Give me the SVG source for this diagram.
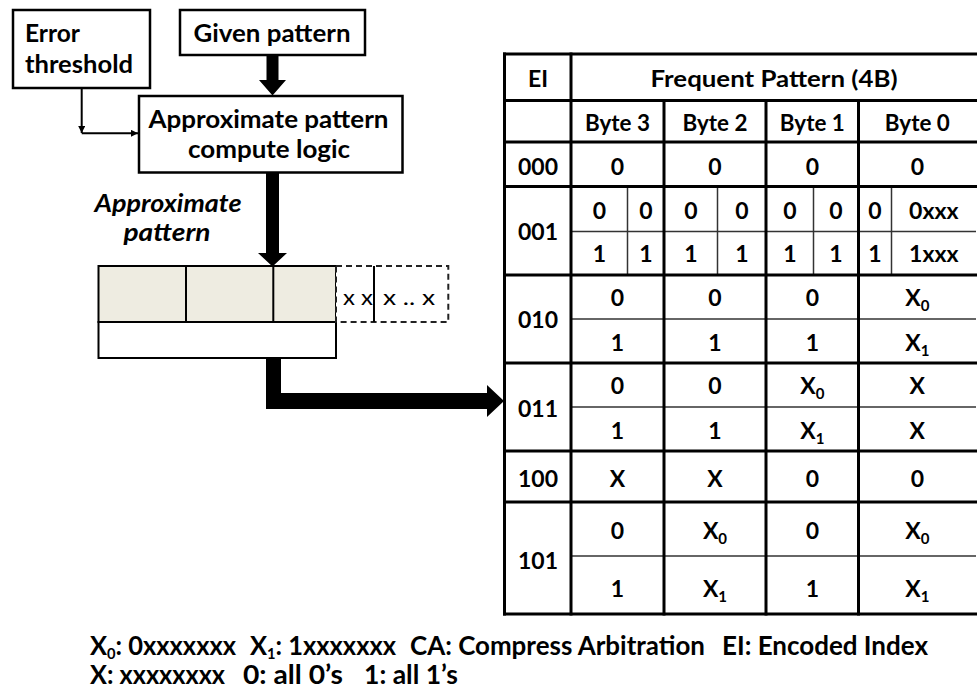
<svg xmlns="http://www.w3.org/2000/svg" width="977" height="691" viewBox="0 0 977 691">
  <style>
    text { font-family: Lato, "Liberation Sans", sans-serif; font-weight: bold; fill: #000; }
    .box { fill: #fff; stroke: #000; stroke-width: 2.5; }
    .c { text-anchor: middle; font-size: 23px; }
    .t { font-size: 24px; }
    .thick { stroke: #000; stroke-width: 3; fill: none; }
    .thin { stroke: #333; stroke-width: 1.5; fill: none; }
    .reg { stroke: #000; stroke-width: 2; }
    .dash { fill: #fff; stroke: #222; stroke-width: 2; stroke-dasharray: 6 4; }
    .xs { font-weight: normal; font-size: 21px; text-anchor: middle; }
    .leg { font-size: 26px; }
    .sub { font-size: 15px; }
  </style>
  <defs>
    <marker id="tip" viewBox="0 0 10 10" refX="10" refY="5" markerWidth="7" markerHeight="7" markerUnits="userSpaceOnUse" orient="auto">
      <path d="M0,0 L10,5 L0,10 z" fill="#000"/>
    </marker>
  </defs>

  <!-- input boxes -->
  <g id="error-threshold">
    <rect class="box" x="13" y="10" width="137" height="78"/>
    <text class="t" x="25" y="41.5" textLength="55" lengthAdjust="spacingAndGlyphs">Error</text>
    <text class="t" x="25" y="73" textLength="108" lengthAdjust="spacingAndGlyphs">threshold</text>
  </g>
  <g id="given-pattern">
    <rect class="box" x="180" y="10" width="185" height="45"/>
    <text class="t" x="272" y="41.5" text-anchor="middle" textLength="157" lengthAdjust="spacingAndGlyphs">Given pattern</text>
  </g>
  <g id="compute-logic">
    <rect class="box" x="139" y="96" width="263.5" height="76.5"/>
    <text class="t" x="268.5" y="128" text-anchor="middle" textLength="240" lengthAdjust="spacingAndGlyphs">Approximate pattern</text>
    <text class="t" x="269" y="158" text-anchor="middle" textLength="162" lengthAdjust="spacingAndGlyphs">compute logic</text>
  </g>
  <g id="approx-label">
    <text class="t" x="168" y="212" text-anchor="middle" font-style="italic" textLength="147" lengthAdjust="spacingAndGlyphs">Approximate</text>
    <text class="t" x="167" y="241" text-anchor="middle" font-style="italic" textLength="87" lengthAdjust="spacingAndGlyphs">pattern</text>
  </g>

  <!-- approximate pattern register -->
  <g id="register">
    <rect x="98.5" y="266" width="237.5" height="56" fill="#EEECE1" class="reg"/>
    <line class="reg" x1="186" y1="266" x2="186" y2="322"/>
    <line class="reg" x1="273.3" y1="266" x2="273.3" y2="322"/>
    <rect x="98.5" y="322" width="237.5" height="36" fill="#fff" class="reg"/>
    <rect class="dash" x="336" y="266" width="112.3" height="56"/>
    <line class="reg" x1="374" y1="266" x2="374" y2="322"/>
    <text class="xs" x="358" y="305" textLength="30" lengthAdjust="spacingAndGlyphs">x x</text>
    <text class="xs" x="409" y="305" textLength="52" lengthAdjust="spacingAndGlyphs">x .. x</text>
  </g>

  <!-- connectors -->
  <g id="connectors">
    <path d="M81.7,88 V133" stroke="#000" stroke-width="2" fill="none" marker-end="url(#tip)"/>
    <path d="M81.7,133.3 H138" stroke="#000" stroke-width="2" fill="none" marker-end="url(#tip)"/>
    <polygon points="266.5,55 278.5,55 278.5,80 286,80 272.5,95.5 259,80 266.5,80" fill="#000"/>
    <polygon points="266,172.5 279,172.5 279,253 287,253 272.5,266.5 258,253 266,253" fill="#000"/>
    <polygon points="266,358 281,358 281,393 487,393 487,385 504,401 487,417 487,409 266,409" fill="#000"/>
  </g>

  <!-- frequent pattern table -->
  <g id="pattern-table">
    <!-- thin sub-row and sub-column rules -->
    <g class="thin">
      <line x1="571" y1="231.5" x2="976" y2="231.5"/>
      <line x1="571" y1="319" x2="976" y2="319"/>
      <line x1="571" y1="407" x2="976" y2="407"/>
      <line x1="571" y1="556" x2="976" y2="556"/>
      <line x1="627.5" y1="186.5" x2="627.5" y2="275"/>
      <line x1="717.5" y1="186.5" x2="717.5" y2="275"/>
      <line x1="813.5" y1="186.5" x2="813.5" y2="275"/>
      <line x1="891.5" y1="186.5" x2="891.5" y2="275"/>
    </g>
    <!-- heavy grid -->
    <g class="thick">
      <line x1="503" y1="54" x2="977" y2="54"/>
      <line x1="503" y1="100.5" x2="977" y2="100.5"/>
      <line x1="503" y1="142" x2="977" y2="142"/>
      <line x1="503" y1="186.5" x2="977" y2="186.5"/>
      <line x1="503" y1="275" x2="977" y2="275"/>
      <line x1="503" y1="363" x2="977" y2="363"/>
      <line x1="503" y1="451" x2="977" y2="451"/>
      <line x1="503" y1="502" x2="977" y2="502"/>
      <line x1="503" y1="614" x2="977" y2="614"/>
      <line x1="504.5" y1="52.5" x2="504.5" y2="615.5"/>
      <line x1="571" y1="52.5" x2="571" y2="615.5"/>
      <line x1="664" y1="100.5" x2="664" y2="615.5"/>
      <line x1="766" y1="100.5" x2="766" y2="615.5"/>
      <line x1="858.5" y1="100.5" x2="858.5" y2="615.5"/>
    </g>

    <!-- header -->
    <text class="c" x="538" y="86.5">EI</text>
    <text class="c" x="774" y="86.5" textLength="247" lengthAdjust="spacingAndGlyphs">Frequent Pattern (4B)</text>
    <text class="c" x="617.5" y="131" textLength="65" lengthAdjust="spacingAndGlyphs">Byte 3</text>
    <text class="c" x="715" y="131" textLength="65" lengthAdjust="spacingAndGlyphs">Byte 2</text>
    <text class="c" x="812.3" y="131" textLength="65" lengthAdjust="spacingAndGlyphs">Byte 1</text>
    <text class="c" x="917.3" y="131" textLength="65" lengthAdjust="spacingAndGlyphs">Byte 0</text>

    <!-- 000 -->
    <text class="c" x="538" y="175">000</text>
    <text class="c" x="617.5" y="175">0</text>
    <text class="c" x="715" y="175">0</text>
    <text class="c" x="812.3" y="175">0</text>
    <text class="c" x="917.3" y="175">0</text>

    <!-- 001 -->
    <text class="c" x="538" y="240">001</text>
    <text class="c" x="599.3" y="219">0</text>
    <text class="c" x="645.8" y="219">0</text>
    <text class="c" x="690.8" y="219">0</text>
    <text class="c" x="741.8" y="219">0</text>
    <text class="c" x="789.8" y="219">0</text>
    <text class="c" x="836" y="219">0</text>
    <text class="c" x="875" y="219">0</text>
    <text class="c" x="933.8" y="219">0xxx</text>
    <text class="c" x="599.3" y="261.5">1</text>
    <text class="c" x="645.8" y="261.5">1</text>
    <text class="c" x="690.8" y="261.5">1</text>
    <text class="c" x="741.8" y="261.5">1</text>
    <text class="c" x="789.8" y="261.5">1</text>
    <text class="c" x="836" y="261.5">1</text>
    <text class="c" x="875" y="261.5">1</text>
    <text class="c" x="933.8" y="261.5">1xxx</text>

    <!-- 010 -->
    <text class="c" x="538" y="328">010</text>
    <text class="c" x="617.5" y="306">0</text>
    <text class="c" x="715" y="306">0</text>
    <text class="c" x="812.3" y="306">0</text>
    <text class="c" x="917.3" y="306">X<tspan class="sub" dy="5">0</tspan></text>
    <text class="c" x="617.5" y="351">1</text>
    <text class="c" x="715" y="351">1</text>
    <text class="c" x="812.3" y="351">1</text>
    <text class="c" x="917.3" y="351">X<tspan class="sub" dy="5">1</tspan></text>

    <!-- 011 -->
    <text class="c" x="538" y="417">011</text>
    <text class="c" x="617.5" y="394">0</text>
    <text class="c" x="715" y="394">0</text>
    <text class="c" x="812.3" y="394">X<tspan class="sub" dy="5">0</tspan></text>
    <text class="c" x="917.3" y="394">X</text>
    <text class="c" x="617.5" y="438.5">1</text>
    <text class="c" x="715" y="438.5">1</text>
    <text class="c" x="812.3" y="438.5">X<tspan class="sub" dy="5">1</tspan></text>
    <text class="c" x="917.3" y="438.5">X</text>

    <!-- 100 -->
    <text class="c" x="538" y="487">100</text>
    <text class="c" x="617.5" y="487">X</text>
    <text class="c" x="715" y="487">X</text>
    <text class="c" x="812.3" y="487">0</text>
    <text class="c" x="917.3" y="487">0</text>

    <!-- 101 -->
    <text class="c" x="538" y="569">101</text>
    <text class="c" x="617.5" y="539">0</text>
    <text class="c" x="715" y="539">X<tspan class="sub" dy="5">0</tspan></text>
    <text class="c" x="812.3" y="539">0</text>
    <text class="c" x="917.3" y="539">X<tspan class="sub" dy="5">0</tspan></text>
    <text class="c" x="617.5" y="596.5">1</text>
    <text class="c" x="715" y="596.5">X<tspan class="sub" dy="5">1</tspan></text>
    <text class="c" x="812.3" y="596.5">1</text>
    <text class="c" x="917.3" y="596.5">X<tspan class="sub" dy="5">1</tspan></text>
  </g>

  <!-- legend -->
  <g id="legend">
    <text class="leg" x="90" y="655" textLength="146" lengthAdjust="spacingAndGlyphs">X<tspan class="sub" dy="4">0</tspan><tspan dy="-4">: 0xxxxxxx</tspan></text>
    <text class="leg" x="250" y="655" textLength="146" lengthAdjust="spacingAndGlyphs">X<tspan class="sub" dy="4">1</tspan><tspan dy="-4">: 1xxxxxxx</tspan></text>
    <text class="leg" x="410" y="655" textLength="295" lengthAdjust="spacingAndGlyphs">CA: Compress Arbitration</text>
    <text class="leg" x="722" y="655" textLength="206" lengthAdjust="spacingAndGlyphs">EI: Encoded Index</text>
    <text class="leg" x="90" y="684" textLength="135" lengthAdjust="spacingAndGlyphs">X: xxxxxxxx</text>
    <text class="leg" x="243" y="684" textLength="100" lengthAdjust="spacingAndGlyphs">0: all 0’s</text>
    <text class="leg" x="364" y="684" textLength="94" lengthAdjust="spacingAndGlyphs">1: all 1’s</text>
  </g>
</svg>
